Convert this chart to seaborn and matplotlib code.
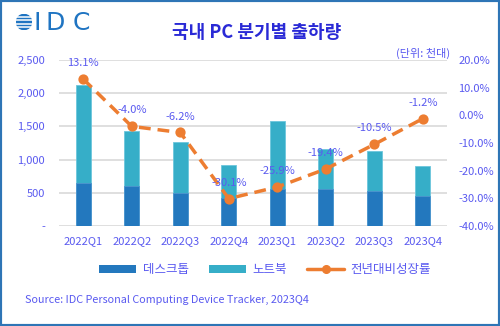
import numpy as np
import pandas as pd
import matplotlib
matplotlib.use("Agg")
import matplotlib.pyplot as plt
from matplotlib.patches import Rectangle, Circle, Patch
from matplotlib.lines import Line2D
import seaborn as sns

# Quarterly domestic PC shipments (thousand units) and YoY growth (%)
quarters = ["2022Q1", "2022Q2", "2022Q3", "2022Q4", "2023Q1", "2023Q2", "2023Q3", "2023Q4"]
desktop = [653, 608, 497, 422, 553, 563, 533, 447]
notebook = [1466, 823, 768, 492, 1024, 592, 592, 452]
growth = [13.1, -4.0, -6.2, -30.1, -25.9, -19.4, -10.5, -1.2]

left_ticks = [0, 500, 1000, 1500, 2000, 2500]
left_labels = ["-", "500", "1,000", "1,500", "2,000", "2,500"]
right_ticks = [-40, -30, -20, -10, 0, 10, 20]

sns.set_theme(style="white")
plt.rcParams["font.family"] = ["Noto Sans CJK KR", "DejaVu Sans"]

C_DESK = "#2378be"
C_NOTE = "#36aec8"
C_LINE = "#ed7d31"
C_TEXT = "#5a5af0"
C_TITLE = "#2a2ad6"
C_GRID = "#d9d9d9"

df = pd.DataFrame({"quarter": quarters, "desktop": desktop, "notebook": notebook})
df["total"] = df["desktop"] + df["notebook"]

fig = plt.figure(figsize=(5.0, 3.26), dpi=100)
ax = fig.add_axes([59 / 500, 1 - 226 / 326, 388 / 500, 166 / 326])

# Stacked bars: full height in notebook colour, desktop portion on top of it
sns.barplot(data=df, x="quarter", y="total", color=C_NOTE, width=0.31,
            saturation=1, ax=ax, edgecolor="#6cc6dc", linewidth=0.6)
sns.barplot(data=df, x="quarter", y="desktop", color=C_DESK, width=0.31,
            saturation=1, ax=ax, edgecolor="#4e95cf", linewidth=0.6)

ax.set_ylim(0, 2500)
ax.set_yticks(left_ticks)
ax.set_yticklabels(left_labels)
ax.set_xlabel("")
ax.set_ylabel("")
ax.yaxis.grid(True, color=C_GRID, linewidth=1.2)
ax.set_axisbelow(True)
for s in ax.spines.values():
    s.set_visible(False)
ax.tick_params(axis="y", length=0, pad=10, labelsize=8, labelcolor=C_TEXT)
ax.tick_params(axis="x", length=0, pad=7, labelsize=8, labelcolor=C_TEXT)

# YoY growth on the secondary axis
ax2 = ax.twinx()
sns.pointplot(x=quarters, y=growth, ax=ax2, color=C_LINE, markers="o",
              linestyles="--", markersize=5.5, linewidth=2.5)
for ln in ax2.lines:
    ln.set_dashes((3.4, 2.0))
ax2.set_ylim(-40, 20)
ax2.set_yticks(right_ticks)
ax2.set_yticklabels([f"{v:.1f}%" for v in right_ticks])
ax2.set_ylabel("")
for s in ax2.spines.values():
    s.set_visible(False)
ax2.tick_params(axis="y", length=0, pad=8, labelsize=8, labelcolor=C_TEXT)
ax2.grid(False)
ax.set_xlim(-0.5, len(quarters) - 0.5)
ax2.set_xlim(-0.5, len(quarters) - 0.5)

for i, g in enumerate(growth):
    ax2.annotate(f"{g:.1f}%", (i, g), xytext=(0, 11.5), textcoords="offset points",
                 ha="center", va="center", fontsize=8, color=C_TEXT)

# Title, unit note, source
fig.text(257 / 500, 1 - 33 / 326, "국내 PC 분기별 출하량", ha="center", va="center",
         fontsize=13, fontweight="bold", color=C_TITLE)
fig.text(450 / 500, 1 - 53 / 326, "(단위: 천대)", ha="right", va="center",
         fontsize=8, color=C_TEXT)
fig.text(25 / 500, 1 - 300 / 326, "Source: IDC Personal Computing Device Tracker, 2023Q4",
         ha="left", va="center", fontsize=7.8, color=C_TEXT)

# Legend
handles = [
    Patch(facecolor=C_DESK, edgecolor="none"),
    Patch(facecolor=C_NOTE, edgecolor="none"),
    Line2D([0], [0], color=C_LINE, lw=2.5, marker="o", markersize=5.5, linestyle="-"),
]
leg = fig.legend(handles, ["데스크톱", "노트북", "전년대비성장률"], loc="center",
                 bbox_to_anchor=(265 / 500, 1 - 270 / 326), ncol=3, frameon=False,
                 fontsize=9, handlelength=3.0, handleheight=0.55, handletextpad=0.5,
                 columnspacing=1.6, labelcolor=C_TEXT)

# IDC logo: striped globe and letters
C_LOGO = "#1f74c2"
lax = fig.add_axes([16 / 500, 1 - 30 / 326, 16 / 500, 16 / 326])
lax.set_xlim(-1.05, 1.05)
lax.set_ylim(-1.05, 1.05)
lax.set_aspect("equal")
lax.axis("off")
lax.add_patch(Circle((0, 0), 1.0, color=C_LOGO))
for yy in (-0.6, -0.2, 0.2, 0.6):
    lax.axhline(yy, color="white", lw=1.1)
for ch, xx in (("I", 37), ("D", 55), ("C", 81)):
    fig.text(xx / 500, 1 - 22.5 / 326, ch, ha="center", va="center",
             fontsize=18, color=C_LOGO, family="DejaVu Sans")

# Blue frame around the whole graphic
fig.add_artist(Rectangle((0, 0), 1, 1, transform=fig.transFigure, fill=False,
                         edgecolor="#2e75b6", linewidth=3, clip_on=False))

fig.savefig("out.png", dpi=100, facecolor="white")
